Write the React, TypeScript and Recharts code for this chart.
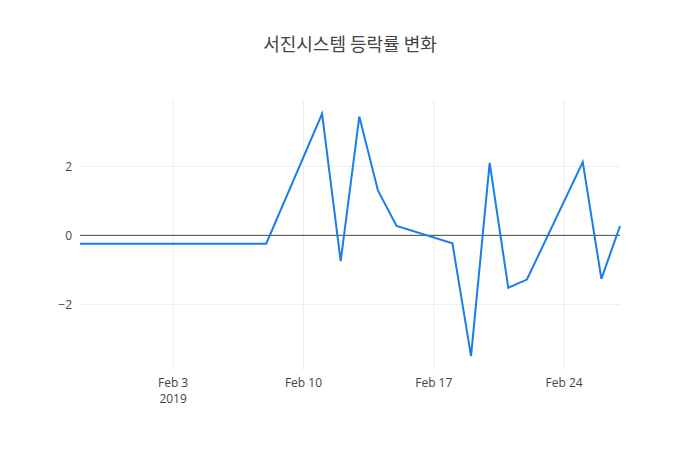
import { LineChart, Line, XAxis, YAxis, ReferenceLine } from "recharts"

// trading days and daily change rate (%)
const dates = [
 "2019-01-29", "2019-01-30", "2019-01-31", "2019-02-01", "2019-02-07", "2019-02-08",
 "2019-02-11", "2019-02-12", "2019-02-13", "2019-02-14", "2019-02-15",
 "2019-02-18", "2019-02-19", "2019-02-20", "2019-02-21", "2019-02-22",
 "2019-02-25", "2019-02-26", "2019-02-27",
]

const changeRate = [
 -0.24, -0.24, -0.24, -0.24, -0.24, -0.24,
 3.52, -0.75, 3.44, 1.3, 0.27,
 -0.23, -3.5, 2.1, -1.52, -1.28,
 2.12, -1.26, 0.27,
]

const xTickDates = ["2019-02-03", "2019-02-10", "2019-02-17", "2019-02-24"]
const yTicks = [-2, 0, 2]

const toTime = (d: string) => new Date(d + "T00:00:00Z").getTime()
const monthNames = ["Jan", "Feb", "Mar", "Apr", "May", "Jun", "Jul", "Aug", "Sep", "Oct", "Nov", "Dec"]

const data = dates.map((d, i) => ({ t: toTime(d), value: changeRate[i] }))
const xTicks = xTickDates.map(toTime)

const font = '"Open Sans", "Noto Sans", sans-serif'

function DateTick(props: any) {
 const { x, y, payload, index } = props
 const d = new Date(payload.value)
 const label = `${monthNames[d.getUTCMonth()]} ${d.getUTCDate()}`
 return (
  <g>
   <text x={x} y={y} dy={9} textAnchor="middle" fill="#444" fontSize={12} fontFamily={font}>
    {label}
   </text>
   {index === 0 && (
    <text x={x} y={y} dy={25} textAnchor="middle" fill="#444" fontSize={12} fontFamily={font}>
     {d.getUTCFullYear()}
    </text>
   )}
  </g>
 )
}

export default function App() {
 return (
  <div style={{ position: "absolute", left: 0, top: 0, width: 700, height: 450, background: "#fff" }}>
   <div
    style={{
     position: "absolute",
     top: 31,
     width: 700,
     textAlign: "center",
     fontFamily: '"Noto Sans CJK KR", sans-serif',
     fontSize: 18,
     color: "#444",
     lineHeight: "24px",
    }}
   >
    서진시스템 등락률 변화
   </div>
   <LineChart
    width={700}
    height={450}
    data={data}
    margin={{ top: 100, right: 80, left: 0, bottom: 0 }}
   >
    <XAxis
     dataKey="t"
     type="number"
     scale="time"
     domain={[toTime("2019-01-29"), toTime("2019-02-27")]}
     ticks={xTicks}
     axisLine={false}
     tickLine={false}
     height={80}
     tick={<DateTick />}
     interval={0}
    />
    <YAxis
     type="number"
     domain={[-3.9, 3.92]}
     ticks={yTicks}
     width={80}
     axisLine={false}
     tickLine={false}
     tickMargin={2}
     allowDataOverflow
     tick={{ fill: "#444", fontSize: 12, fontFamily: font }}
     tickFormatter={(v: number) => (v < 0 ? `\u2212${-v}` : `${v}`)}
    />
    {xTicks.map((t) => (
     <ReferenceLine key={t} x={t} stroke="#eee" strokeWidth={1} />
    ))}
    {yTicks.filter((v) => v !== 0).map((v) => (
     <ReferenceLine key={v} y={v} stroke="#eee" strokeWidth={1} />
    ))}
    <ReferenceLine y={0} stroke="#444" strokeWidth={1} />
    <Line
     type="linear"
     dataKey="value"
     stroke="#1a7de8"
     strokeWidth={2}
     dot={false}
     isAnimationActive={false}
    />
   </LineChart>
  </div>
 )
}
